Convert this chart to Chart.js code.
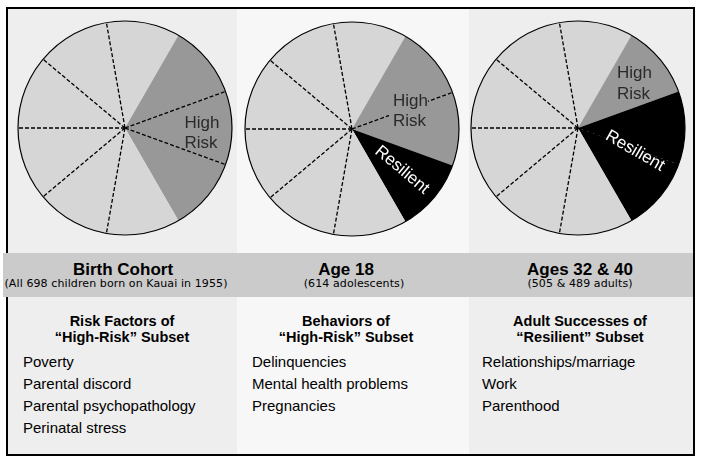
<!DOCTYPE html>
<html>
<head>
<meta charset="utf-8">
<script src="https://cdn.jsdelivr.net/npm/chart.js@4"></script>
<style>
  body { margin: 0; background: #fff; width: 714px; height: 463px; position: relative; overflow: hidden; }
  .abs { position: absolute; }
  .panel { top: 9px; height: 445px; }
  #frame { left: 6px; top: 7px; width: 689px; height: 449px; border: 2px solid #000; box-sizing: border-box; }
  #band { left: 3px; top: 253px; width: 690px; height: 44px; background: #cbcbcb; }
  .title { font: bold 17px "Liberation Sans", Arial, sans-serif; line-height: 17px; text-align: center; color: #000; white-space: nowrap; }
  .sub { font: 11px "DejaVu Sans", sans-serif; line-height: 11px; letter-spacing: 0.1px; text-align: center; color: #000; white-space: nowrap; }
  .head { font: bold 14.5px "Liberation Sans", Arial, sans-serif; line-height: 16px; text-align: center; color: #000; white-space: nowrap; }
  .list { font: 15px "Liberation Sans", Arial, sans-serif; line-height: 22px; color: #000; white-space: nowrap; }
  canvas { position: absolute; }
</style>
</head>
<body>
<div class="abs panel" style="left:8px;width:229px;background:#eeeeee"></div>
<div class="abs panel" style="left:237px;width:232px;background:#f7f7f7"></div>
<div class="abs panel" style="left:469px;width:224px;background:#eeeeee"></div>
<div id="frame" class="abs"></div>
<div id="band" class="abs"></div>
<canvas id="pie0" width="220" height="220" style="left:15px;top:18px"></canvas>
<canvas id="pie1" width="220" height="220" style="left:242px;top:19px"></canvas>
<canvas id="pie2" width="220" height="220" style="left:468px;top:18px"></canvas>
<div id="texts"></div>
<script>
// nine equal wedges, starting 10 degrees left of twelve o'clock
const segmentValues = [1, 1, 1, 1, 1, 1, 1, 1, 1];
const birthGroups = ['other', 'high', 'high', 'high', 'other', 'other', 'other', 'other', 'other'];
const age18Groups = ['other', 'high', 'high', 'resilient', 'other', 'other', 'other', 'other', 'other'];
const adultGroups = ['other', 'high', 'resilient', 'resilient', 'other', 'other', 'other', 'other', 'other'];
const groupColors = { other: '#d6d6d6', high: '#989898', resilient: '#000000' };

const panelTitles = ['Birth Cohort', 'Age 18', 'Ages 32 & 40'];
const panelSubtitles = ['(All 698 children born on Kauai in 1955)', '(614 adolescents)', '(505 & 489 adults)'];
const listHeadings = [
    ['Risk Factors of', '“High-Risk” Subset'],
    ['Behaviors of', '“High-Risk” Subset'],
    ['Adult Successes of', '“Resilient” Subset']
];
const listItems = [
    ['Poverty', 'Parental discord', 'Parental psychopathology', 'Perinatal stress'],
    ['Delinquencies', 'Mental health problems', 'Pregnancies'],
    ['Relationships/marriage', 'Work', 'Parenthood']
];

// layout of the text blocks (page pixels)
const titleCenters = [123, 346, 580];
const subCenters = [116, 354, 580];
const headCenters = [122, 346, 580];
const listLefts = [23, 252, 482];

const texts = document.getElementById('texts');
function addText(cls, html, css) {
    const d = document.createElement('div');
    d.className = 'abs ' + cls;
    d.innerHTML = html;
    Object.assign(d.style, css);
    texts.appendChild(d);
}
panelTitles.forEach((t, i) => {
    addText('title', t, { left: (titleCenters[i] - 150) + 'px', width: '300px', top: '260.6px' });
    addText('sub', panelSubtitles[i], { left: (subCenters[i] - 150) + 'px', width: '300px', top: '277.7px' });
    addText('head', listHeadings[i].join('<br>'), { left: (headCenters[i] - 150) + 'px', width: '300px', top: '313px' });
    addText('list', listItems[i].join('<br>'), { left: listLefts[i] + 'px', top: '350.8px' });
});

const pieNotes = {
    id: 'pieNotes',
    afterDatasetsDraw(chart, args, opts) {
        const ctx = chart.ctx;
        const arcs = chart.getDatasetMeta(0).data;
        const groups = chart.data.labels;
        const { x, y, outerRadius } = arcs[0].getProps(['x', 'y', 'outerRadius']);
        ctx.save();
        ctx.strokeStyle = '#000';
        ctx.lineWidth = 1.3;
        ctx.setLineDash([4, 2]);
        // dashed divider only between wedges of the same group
        arcs.forEach((arc, i) => {
            const prev = groups[(i + groups.length - 1) % groups.length];
            if (prev !== groups[i]) return;
            const a = arc.startAngle;
            ctx.beginPath();
            ctx.moveTo(x, y);
            ctx.lineTo(x + outerRadius * Math.cos(a), y + outerRadius * Math.sin(a));
            ctx.stroke();
        });
        ctx.setLineDash([]);
        ctx.lineWidth = 1.2;
        ctx.beginPath();
        ctx.arc(x, y, outerRadius, 0, Math.PI * 2);
        ctx.stroke();

        (opts.notes || []).forEach(n => {
            ctx.save();
            ctx.translate(x + n.dx, y + n.dy);
            ctx.rotate((n.rotate || 0) * Math.PI / 180);
            ctx.font = '17px "Liberation Sans", Arial, sans-serif';
            ctx.textAlign = n.align || 'left';
            ctx.textBaseline = n.baseline || 'alphabetic';
            if (n.mask) {
                const w = Math.max(...n.lines.map(l => ctx.measureText(l).width));
                ctx.fillStyle = n.mask;
                ctx.fillRect(-4, -14, w + 4, n.lines.length * n.lh + 4);
            }
            ctx.fillStyle = n.color;
            n.lines.forEach((l, k) => ctx.fillText(l, 0, k * n.lh));
            ctx.restore();
        });
        ctx.restore();
    }
};

function makePie(id, groups, notes) {
    return new Chart(document.getElementById(id), {
        type: 'pie',
        data: {
            labels: groups,
            datasets: [{
                data: segmentValues,
                backgroundColor: groups.map(g => groupColors[g]),
                borderWidth: 0
            }]
        },
        options: {
            responsive: false,
            animation: false,
            rotation: -10,
            layout: { padding: 3 },
            plugins: {
                legend: { display: false },
                tooltip: { enabled: false },
                pieNotes: { notes: notes }
            }
        },
        plugins: [pieNotes]
    });
}

makePie('pie0', birthGroups, [
    { lines: ['High', 'Risk'], dx: 59.5, dy: -0.5, lh: 20.5, color: '#2a2a2a' }
]);
makePie('pie1', age18Groups, [
    { lines: ['High', 'Risk'], dx: 41, dy: -23, lh: 20, color: '#2a2a2a', mask: '#989898' },
    { lines: ['Resilient'], dx: 50, dy: 41, lh: 20, color: '#ffffff', rotate: 40, align: 'center', baseline: 'middle' }
]);
makePie('pie2', adultGroups, [
    { lines: ['High', 'Risk'], dx: 39, dy: -50, lh: 21, color: '#2a2a2a' },
    { lines: ['Resilient'], dx: 57, dy: 23, lh: 20, color: '#ffffff', rotate: 30, align: 'center', baseline: 'middle' }
]);
</script>
</body>
</html>
